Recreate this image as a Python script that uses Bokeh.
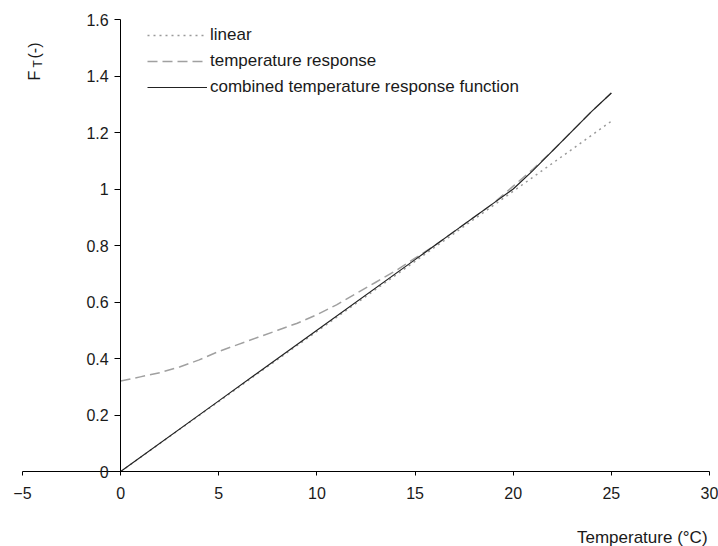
import math
from bokeh.plotting import figure
from bokeh.models import Range1d, Legend, LegendItem, Label, FixedTicker
from bokeh.embed import file_html
from bokeh.resources import INLINE

# ---- data ----
linear_x = [0, 25]
linear_y = [0.0, 1.24]

resp_x = [0, 1, 2, 3, 4, 5, 6, 7, 8, 9, 10, 11, 12, 13, 14, 15, 16, 17, 18, 19, 20, 21, 22, 23, 24, 25]
resp_y = [0.32, 0.335, 0.35, 0.37, 0.395, 0.425, 0.45, 0.475, 0.50, 0.525, 0.555, 0.59, 0.63, 0.67,
          0.71, 0.755, 0.80, 0.85, 0.90, 0.95, 1.01, 1.07, 1.135, 1.205, 1.275, 1.34]

comb_x = [0, 5, 10, 15, 16, 17, 18, 19, 20, 21, 22, 23, 24, 25]
comb_y = [0.0, 0.25, 0.5, 0.75, 0.80, 0.85, 0.90, 0.95, 1.0, 1.065, 1.135, 1.205, 1.275, 1.34]

x_ticks = [-5, 0, 5, 10, 15, 20, 25, 30]
y_ticks = [0, 0.2, 0.4, 0.6, 0.8, 1.0, 1.2, 1.4, 1.6]
y_tick_labels = ["0", "0.2", "0.4", "0.6", "0.8", "1", "1.2", "1.4", "1.6"]

series_names = ["linear", "temperature response", "combined temperature response function"]
x_title = "Temperature (\u00b0C)"

FONT = "Liberation Sans"
FS_TICK = "16px"
FS = "17px"
TXT = "#1a1a1a"

p = figure(width=718, height=546, output_backend="svg", toolbar_location=None,
           x_range=Range1d(-5.611, 30.4585), y_range=Range1d(-0.26549, 1.6496),
           min_border_left=10, min_border_right=0, min_border_top=5, min_border_bottom=0)
p.outline_line_color = None
p.xgrid.visible = False
p.ygrid.visible = False
p.background_fill_color = "white"

# axes (crossing at the origin)
xa = p.xaxis[0]
xa.fixed_location = 0
xa.bounds = (x_ticks[0], x_ticks[-1])
xa.ticker = FixedTicker(ticks=x_ticks)
xa.minor_tick_line_color = None
xa.major_tick_in = 0
xa.major_tick_out = 4
xa.major_label_standoff = 11
xa.axis_line_color = "black"
xa.major_tick_line_color = "black"
xa.major_label_text_font = FONT
xa.major_label_text_font_size = FS_TICK
xa.major_label_text_color = TXT

ya = p.yaxis[0]
ya.fixed_location = 0
ya.bounds = (y_ticks[0], y_ticks[-1])
ya.ticker = FixedTicker(ticks=y_ticks)
ya.major_label_overrides = {t: l for t, l in zip(y_ticks, y_tick_labels)}
ya.minor_tick_line_color = None
ya.major_tick_in = 0
ya.major_tick_out = 6
ya.major_label_standoff = 6
ya.axis_line_color = "black"
ya.major_tick_line_color = "black"
ya.major_label_text_font = FONT
ya.major_label_text_font_size = FS_TICK
ya.major_label_text_color = TXT

# series
r_lin = p.line(linear_x, linear_y, line_color="#9a9a9a", line_width=1.5, line_dash="2 4")
r_resp = p.line(resp_x, resp_y, line_color="#a0a0a0", line_width=1.5, line_dash="10 5")
r_comb = p.line(comb_x, comb_y, line_color="#222222", line_width=1.2)

legend = Legend(items=[LegendItem(label=series_names[0], renderers=[r_lin]),
                       LegendItem(label=series_names[1], renderers=[r_resp]),
                       LegendItem(label=series_names[2], renderers=[r_comb])],
                location=(137, 449), padding=0, margin=0, spacing=6,
                glyph_width=60, glyph_height=20, label_height=20, label_standoff=3,
                border_line_color=None, background_fill_alpha=0,
                label_text_font=FONT, label_text_font_size=FS, label_text_color=TXT)
p.add_layout(legend)

# axis titles
p.add_layout(Label(x=29.9, y=-0.234, text=x_title, text_align="right", text_baseline="middle",
                   text_font=FONT, text_font_size=FS, text_color=TXT))
p.add_layout(Label(x=-4.38, y=1.384, text="F", angle=math.pi / 2, text_align="left",
                   text_baseline="alphabetic", text_font=FONT, text_font_size=FS_TICK, text_color=TXT))
p.add_layout(Label(x=-4.23, y=1.43, text="T", angle=math.pi / 2, text_align="left",
                   text_baseline="alphabetic", text_font=FONT, text_font_size="12px", text_color=TXT))
p.add_layout(Label(x=-4.38, y=1.462, text=" (-)", angle=math.pi / 2, text_align="left",
                   text_baseline="alphabetic", text_font=FONT, text_font_size=FS_TICK, text_color=TXT))

open("out.html", "w").write(file_html(p, INLINE))
